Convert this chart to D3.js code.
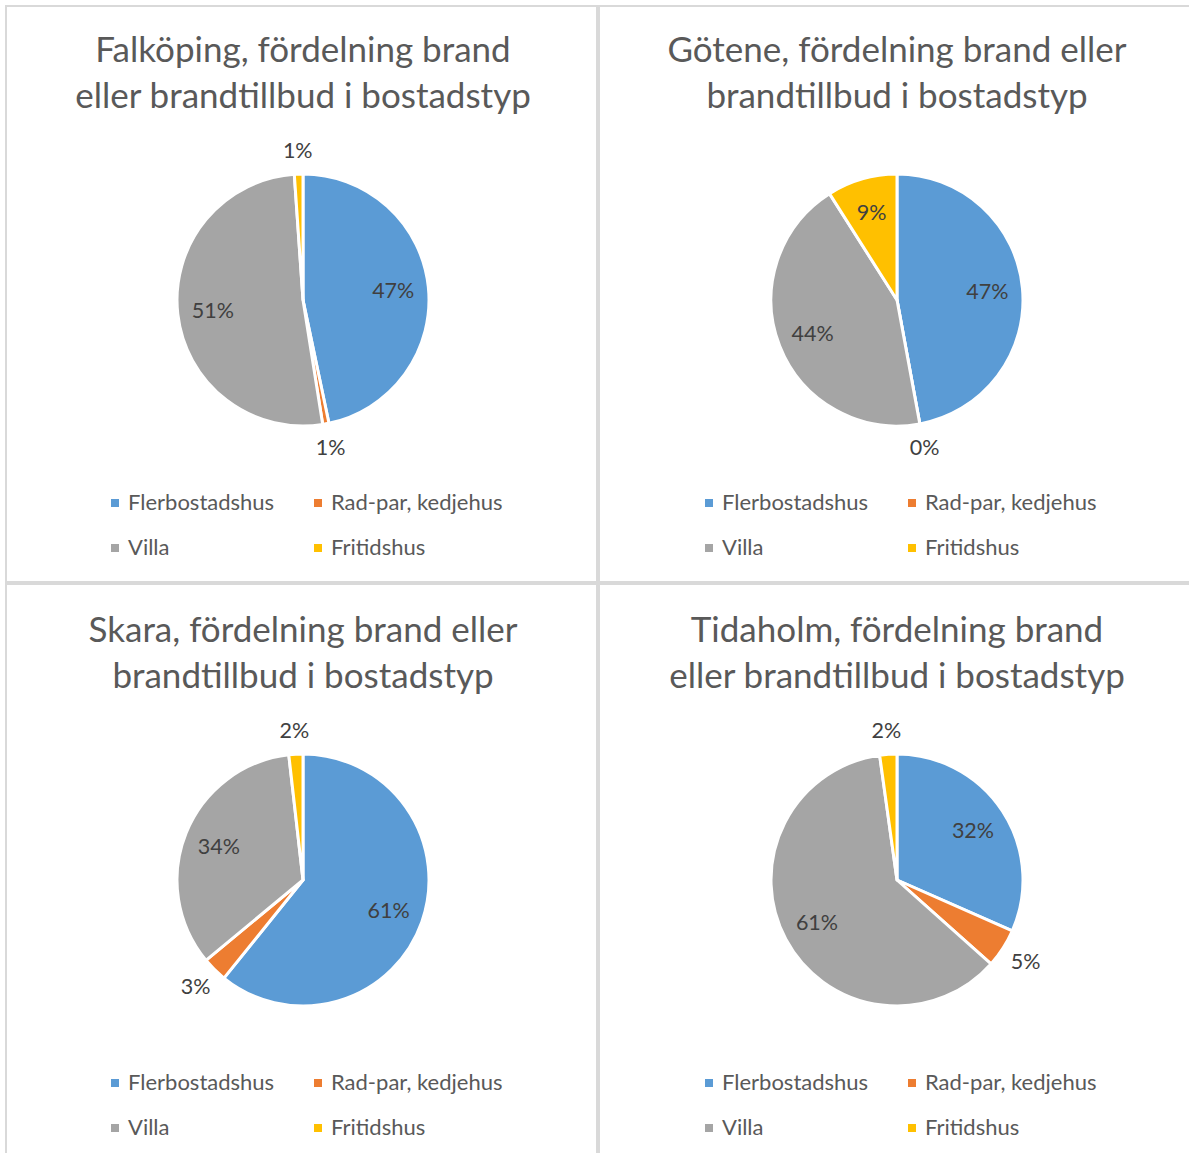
<!DOCTYPE html>
<html>
<head>
<meta charset="utf-8">
<script src="https://cdn.jsdelivr.net/npm/d3@7"></script>
<style>
  body { margin: 0; background: #fff; }
  text { font-family: Lato, "Open Sans", sans-serif; }
</style>
</head>
<body>
<div id="chart"></div>
<script>
const categories = ["Flerbostadshus", "Rad-par, kedjehus", "Villa", "Fritidshus"];
const colors = ["#5B9BD5", "#ED7D31", "#A5A5A5", "#FFC000"];

const titles = [
    ["Falköping, fördelning brand", "eller brandtillbud i bostadstyp"],
    ["Götene, fördelning brand eller", "brandtillbud i bostadstyp"],
    ["Skara, fördelning brand eller", "brandtillbud i bostadstyp"],
    ["Tidaholm, fördelning brand", "eller brandtillbud i bostadstyp"]
];

// share per bostadstyp, percent
const falkoping = [46.7, 0.8, 51.4, 1.1];
const gotene = [47.1, 0, 43.9, 9.0];
const skara = [60.8, 3.2, 34.2, 1.8];
const tidaholm = [31.6, 5.0, 61.2, 2.2];
const series = [falkoping, gotene, skara, tidaholm];

const width = 1189, height = 1153;
const radius = 126;
const panels = [
    { x: 6, y: 6, cx: 303, cy: 300 },
    { x: 599, y: 6, cx: 897, cy: 300 },
    { x: 6, y: 584, cx: 303, cy: 880 },
    { x: 599, y: 584, cx: 897, cy: 880 }
];

const svg = d3.select("#chart").append("svg")
    .attr("width", width)
    .attr("height", height);

const pie = d3.pie().sort(null).value(d => d);
const arc = d3.arc().innerRadius(0).outerRadius(radius);
const inArc = d3.arc().innerRadius(radius * 0.72).outerRadius(radius * 0.72);
const fmt = d3.format(".0%");

panels.forEach((p, i) => {
    // chart frame
    svg.append("rect")
        .attr("x", p.x).attr("y", p.y)
        .attr("width", 591).attr("height", i < 2 ? 576 : 600)
        .attr("fill", "none")
        .attr("stroke", "#d9d9d9")
        .attr("stroke-width", 2);

    const g = svg.append("g").attr("transform", `translate(${p.cx},${p.cy})`);

    g.append("text")
        .attr("text-anchor", "middle")
        .attr("fill", "#595959")
        .style("font-size", "35px")
        .selectAll("tspan")
        .data(titles[i])
        .enter().append("tspan")
        .attr("x", 0)
        .attr("y", (d, j) => -238 + j * 46)
        .text(d => d);

    const values = series[i];
    const total = d3.sum(values);
    const arcs = pie(values);

    g.selectAll("path.slice").data(arcs)
        .enter().append("path")
        .attr("class", "slice")
        .attr("d", arc)
        .attr("fill", (d, j) => colors[j])
        .attr("stroke", "#fff")
        .attr("stroke-width", 3)
        .attr("stroke-linejoin", "round");

    arcs.forEach(d => {
        const t = g.append("text")
            .attr("text-anchor", "middle")
            .attr("dy", "0.35em")
            .attr("fill", "#404040")
            .style("font-size", "21.5px")
            .text(fmt(d.value / total));
        if (d.value / total >= 0.06) {
            const c = inArc.centroid(d);
            t.attr("x", c[0]).attr("y", c[1]);
        } else {
            const a = (d.startAngle + d.endAngle) / 2;
            const ux = Math.sin(a), uy = -Math.cos(a);
            const hw = t.node().getComputedTextLength() / 2;
            t.attr("x", ux * (radius + 12) + ux * hw)
             .attr("y", uy * (radius + 12) + uy * 12);
        }
    });

    const legend = g.selectAll("g.legend").data(categories)
        .enter().append("g")
        .attr("class", "legend")
        .attr("transform", (d, j) => `translate(${(j % 2) * 203 - 192},${Math.floor(j / 2) * 45 + 199})`);
    legend.append("rect")
        .attr("width", 8).attr("height", 8)
        .attr("fill", (d, j) => colors[j]);
    legend.append("text")
        .attr("x", 17).attr("y", 11)
        .attr("fill", "#595959")
        .style("font-size", "22px")
        .text(d => d);
});
</script>
</body>
</html>
